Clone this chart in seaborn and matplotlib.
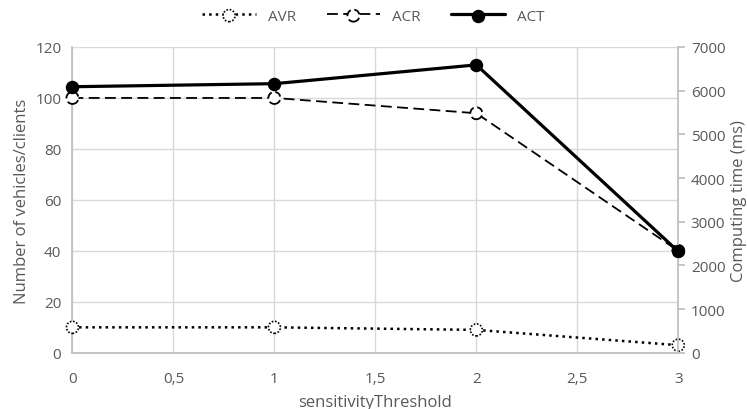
"""
Sensitivity threshold: vehicles/clients and computing time.
"""

import matplotlib
matplotlib.use("Agg")
import matplotlib.pyplot as plt
import seaborn as sns
import pandas as pd

thresholds = [0, 1, 2, 3]
avr = [10, 10, 9, 3]
acr = [100, 100, 94, 40]
act = [6090, 6160, 6590, 2320]

x_ticks = [0, 0.5, 1, 1.5, 2, 2.5, 3]
x_tick_labels = ["0", "0,5", "1", "1,5", "2", "2,5", "3"]

df = pd.DataFrame({"threshold": thresholds, "AVR": avr, "ACR": acr, "ACT": act})

sns.set_theme(style="white")
plt.rcParams["font.family"] = ["Open Sans", "DejaVu Sans"]
text_col = "#595959"

fig, ax = plt.subplots(figsize=(7.47, 4.10), dpi=100)
ax2 = ax.twinx()

# lines
sns.lineplot(data=df, x="threshold", y="AVR", ax=ax, color="black", linestyle=":",
             linewidth=1.8, legend=False)
sns.lineplot(data=df, x="threshold", y="ACR", ax=ax, color="black", linestyle=(0, (6, 3)),
             linewidth=1.3, legend=False)
sns.lineplot(data=df, x="threshold", y="ACT", ax=ax2, color="black", linestyle="-",
             linewidth=2.3, legend=False)

# markers with edges in the series' line style
sc_avr = ax.scatter(df["threshold"], df["AVR"], s=75, facecolor="white", edgecolor="black",
                    linewidths=1.2, linestyle=(0, (1, 1)), zorder=3, clip_on=False)
sc_acr = ax.scatter(df["threshold"], df["ACR"], s=75, facecolor="white", edgecolor="black",
                    linewidths=1.3, linestyle=(0, (4, 2)), zorder=3, clip_on=False)
sc_act = ax2.scatter(df["threshold"], df["ACT"], s=75, facecolor="black", edgecolor="black",
                     linewidths=1, zorder=3, clip_on=False)

ax.set_xlim(0, 3)
ax.set_ylim(0, 120)
ax2.set_ylim(0, 7000)
ax.set_yticks(range(0, 121, 20))
ax2.set_yticks(range(0, 7001, 1000))
ax.set_xticks(x_ticks)
ax.set_xticklabels(x_tick_labels)

ax.grid(True, color="#d9d9d9", linewidth=1)
ax.set_axisbelow(True)
for a in (ax, ax2):
    for s in a.spines.values():
        s.set_visible(False)
    a.tick_params(axis="both", colors=text_col, labelsize=11, length=0, pad=8)
ax.tick_params(axis="x", pad=13)
ax.spines["bottom"].set_visible(True)
ax.spines["bottom"].set_color("#bfbfbf")
ax.spines["left"].set_visible(True)
ax.spines["left"].set_color("#bfbfbf")
ax2.spines["right"].set_visible(True)
ax2.spines["right"].set_color("#bfbfbf")
ax2.tick_params(axis="y", length=5, color="#bfbfbf", direction="out", pad=4)

ax.set_xlabel("sensitivityThreshold", color=text_col, fontsize=12, labelpad=6)
ax.set_ylabel("Number of vehicles/clients", color=text_col, fontsize=12)
ax2.set_ylabel("Computing time (ms)", color=text_col, fontsize=12)
ax2.grid(False)

lines = ax.get_lines()[:2] + ax2.get_lines()[:1]
handles = [(lines[0], sc_avr), (lines[1], sc_acr), (lines[2], sc_act)]
fig.legend(handles, ["AVR", "ACR", "ACT"], loc="upper center", ncol=3, frameon=False,
           bbox_to_anchor=(0.5, 1.01), fontsize=11, handlelength=3.5,
           labelcolor=text_col, columnspacing=2, scatterpoints=1)

fig.subplots_adjust(left=0.097, right=0.908, top=0.883, bottom=0.137)
fig.savefig("out.png", dpi=100)
